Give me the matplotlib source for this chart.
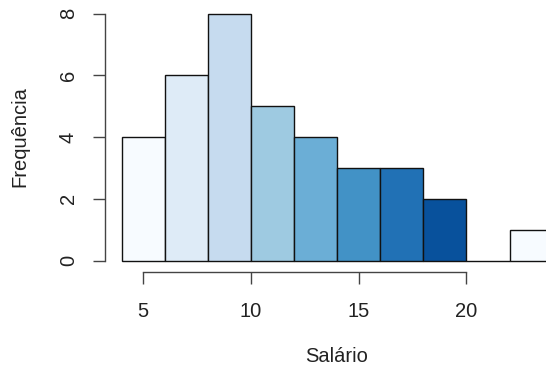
import numpy as np
import matplotlib.pyplot as plt

plt.rcParams['font.family'] = ['Liberation Sans', 'DejaVu Sans']

# histogram of salaries: bin edges and counts per bin
bin_edges = [4, 6, 8, 10, 12, 14, 16, 18, 20, 22, 24]
counts = [4, 6, 8, 5, 4, 3, 3, 2, 0, 1]
blues = ['#F7FBFF', '#DEEBF7', '#C6DBEF', '#9ECAE1', '#6BAED6',
         '#4292C6', '#2171B5', '#08519C', '#08306B']
x_ticks = [5, 10, 15, 20]
y_ticks = [0, 2, 4, 6, 8]

W, H = 546, 368
fig = plt.figure(figsize=(W / 100, H / 100), dpi=100)
ax = fig.add_axes([105 / W, (H - 271.7) / H, (W - 105) / W, 271.7 / H])

lefts = np.array(bin_edges[:-1])
widths = np.diff(bin_edges)
colors = [blues[i % len(blues)] for i in range(len(counts))]
ax.bar(lefts, counts, width=widths, align='edge', color=colors,
       edgecolor='#111111', linewidth=1.0)

ax.set_xlim(3.223, 23.69)
ax.set_ylim(-0.356, 8.437)

for s in ['top', 'right']:
    ax.spines[s].set_visible(False)
ax.spines['left'].set_bounds(0, 8)
ax.spines['bottom'].set_bounds(5, 20)
for s in ['left', 'bottom']:
    ax.spines[s].set_color('#444444')
    ax.spines[s].set_linewidth(1.0)

ax.set_xticks(x_ticks)
ax.set_yticks(y_ticks)
ax.tick_params(axis='both', colors='#444444', labelcolor='#222222',
               labelsize=14.5, length=8.5, width=1.0)
ax.tick_params(axis='x', pad=13)
ax.tick_params(axis='y', pad=11)
for lab in ax.get_yticklabels():
    lab.set_rotation(90)
    lab.set_va('center')

fig.text(336.7 / W, 1 - 357 / H, 'Salário', ha='center', va='center',
         fontsize=14.5, color='#222222')
fig.text(19.5 / W, 1 - 137 / H, 'Frequência', ha='center', va='center',
         rotation=90, fontsize=14.5, color='#222222')

fig.savefig('out.png', dpi=100)
